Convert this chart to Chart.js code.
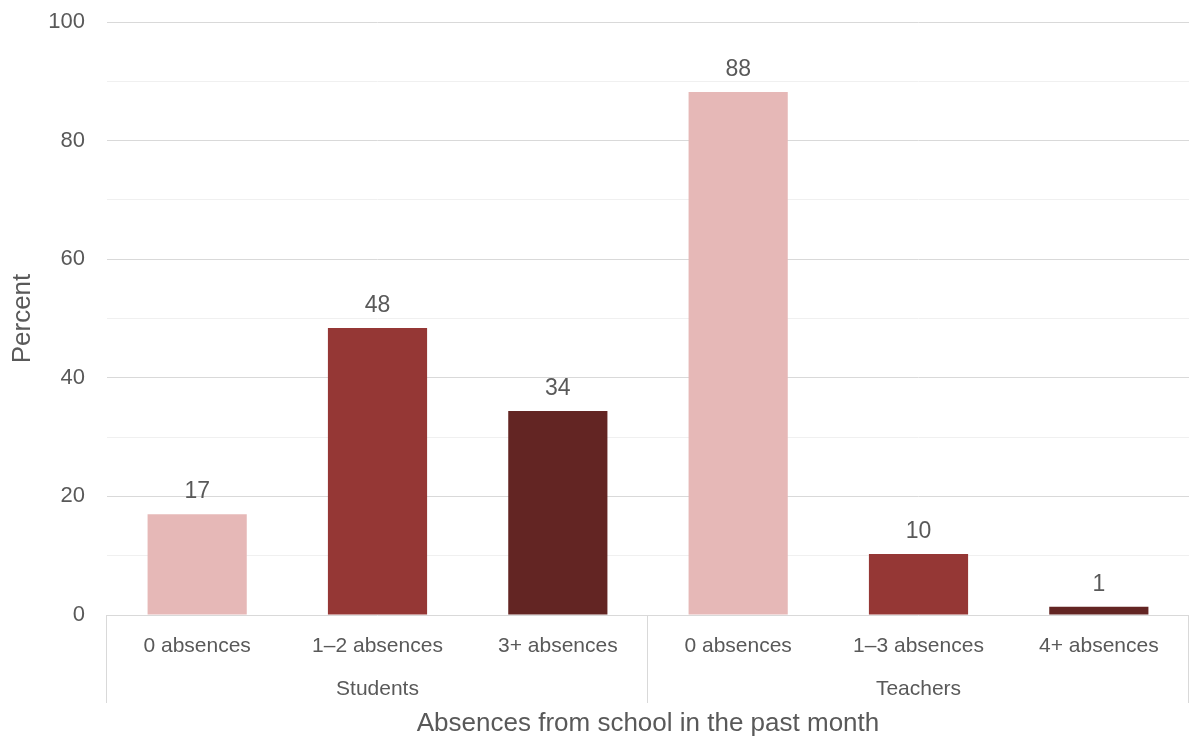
<!DOCTYPE html>
<html>
<head>
<meta charset="utf-8">
<script src="https://cdn.jsdelivr.net/npm/chart.js@4"></script>
<style>
  html, body { margin: 0; padding: 0; background: #fff; }
  #wrap { width: 1190px; height: 740px; }
</style>
</head>
<body>
<div id="wrap"><canvas id="chart"></canvas></div>
<script>
// Chart data
const categories = ["0 absences", "1–2 absences", "3+ absences", "0 absences", "1–3 absences", "4+ absences"];
const values = [17.0, 48.4, 34.4, 88.2, 10.3, 1.4];
const barColors = ["#e6b8b7", "#953735", "#632523", "#e6b8b7", "#953735", "#632523"];
const groups = ["Students", "Teachers"];
const groupSizes = [3, 3];

const textColor = "#595959";
const fontFamily = "'Liberation Sans', Arial, sans-serif";

// Draws value labels above each bar
const valueLabels = {
    id: "valueLabels",
    afterDatasetsDraw(chart) {
        const ctx = chart.ctx;
        const meta = chart.getDatasetMeta(0);
        ctx.save();
        ctx.fillStyle = textColor;
        ctx.font = "23px " + fontFamily;
        ctx.textAlign = "center";
        ctx.textBaseline = "alphabetic";
        meta.data.forEach((bar, i) => {
            ctx.fillText(Math.round(values[i]), bar.x, bar.y - 16);
        });
        ctx.restore();
    }
};

// Draws the group row (Students / Teachers) and its separator lines
const groupAxis = {
    id: "groupAxis",
    afterDraw(chart) {
        const ctx = chart.ctx;
        const x = chart.scales.x;
        const half = (x.getPixelForValue(1) - x.getPixelForValue(0)) / 2;
        const top = chart.chartArea.bottom;
        ctx.save();
        ctx.strokeStyle = "#d9d9d9";
        ctx.lineWidth = 1;
        ctx.fillStyle = textColor;
        ctx.font = "21px " + fontFamily;
        ctx.textAlign = "center";
        ctx.textBaseline = "middle";
        let start = 0;
        groups.forEach((name, g) => {
            const end = start + groupSizes[g] - 1;
            const left = x.getPixelForValue(start) - half;
            const right = x.getPixelForValue(end) + half;
            [left, right].forEach(px => {
                const p = Math.round(px) - 0.5;
                ctx.beginPath();
                ctx.moveTo(p, top);
                ctx.lineTo(p, top + 88);
                ctx.stroke();
            });
            ctx.fillText(name, (left + right) / 2, top + 74);
            start = end + 1;
        });
        ctx.restore();
    }
};

new Chart(document.getElementById("chart"), {
    type: "bar",
    data: {
        labels: categories,
        datasets: [{
            data: values,
            backgroundColor: barColors,
            barPercentage: 0.55,
            categoryPercentage: 1.0
        }]
    },
    options: {
        responsive: true,
        maintainAspectRatio: false,
        animation: false,
        layout: { padding: { top: 22, right: 1, bottom: 0, left: 0 } },
        plugins: {
            legend: { display: false },
            tooltip: { enabled: false }
        },
        scales: {
            x: {
                grid: { display: false },
                border: { display: false },
                ticks: {
                    color: textColor,
                    font: { family: fontFamily, size: 21 },
                    padding: 11,
                    maxRotation: 0,
                    autoSkip: false
                },
                title: {
                    display: true,
                    text: "Absences from school in the past month",
                    color: textColor,
                    font: { family: fontFamily, size: 26 },
                    padding: { top: 1, bottom: 1 }
                },
                afterFit(scale) { scale.height = 125; }
            },
            y: {
                min: 0,
                max: 100,
                border: { display: false },
                grid: {
                    drawTicks: false,
                    color: c => (c.tick.value % 20 === 0 ? "#d9d9d9" : "#f0f0f0")
                },
                ticks: {
                    stepSize: 10,
                    color: textColor,
                    font: { family: fontFamily, size: 22 },
                    padding: 22,
                    callback: v => (v % 20 === 0 ? v : "")
                },
                title: {
                    display: true,
                    text: "Percent",
                    color: textColor,
                    font: { family: fontFamily, size: 26 },
                    padding: { top: 7, bottom: 0 }
                },
                afterFit(scale) {
                    scale.width = 107;
                    scale.paddingTop = 0;
                    scale.paddingBottom = 0;
                }
            }
        }
    },
    plugins: [valueLabels, groupAxis]
});
</script>
</body>
</html>
